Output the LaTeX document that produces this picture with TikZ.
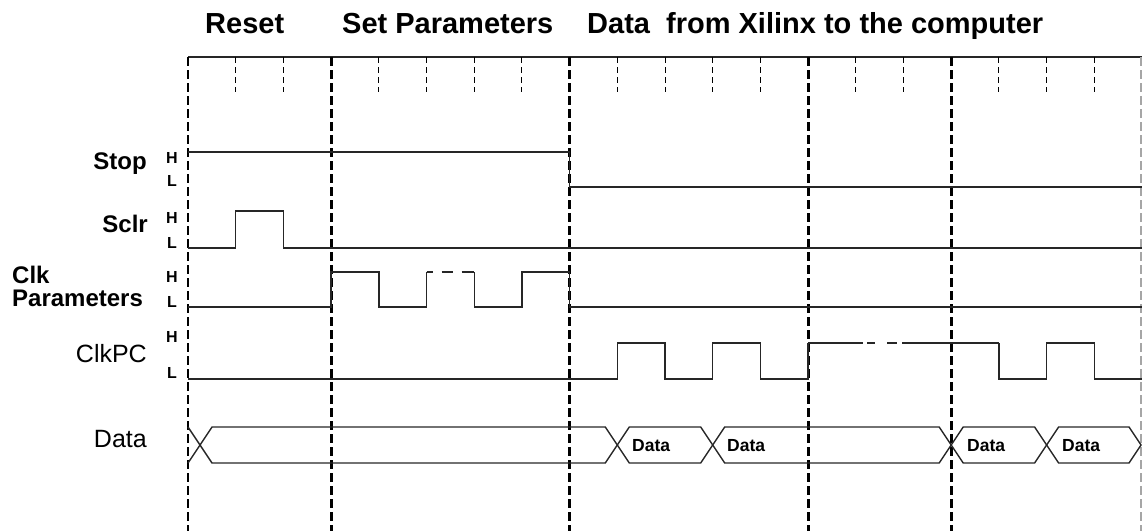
\documentclass[tikz,border=0pt]{standalone}
\usepackage{fontspec}
\setmainfont{Liberation Sans}

\begin{document}
\begin{tikzpicture}[x=1pt, y=-1pt, every node/.style={inner sep=0pt}]
	\tikzset{
		phase/.style={font=\fontsize{29}{33}\selectfont\bfseries, anchor=base west},
		signame/.style={font=\fontsize{24}{23}\selectfont\bfseries, anchor=base east},
		sigreg/.style={font=\fontsize{25}{27}\selectfont, anchor=base east},
		level/.style={font=\fontsize{16}{17}\selectfont\bfseries},
		busname/.style={font=\fontsize{17.5}{19}\selectfont\bfseries, anchor=west},
		wave/.style={line width=1.4pt, color=black!85},
		major/.style={line width=2.8pt, dash pattern=on 9pt off 4pt},
		minor/.style={line width=0.9pt, dash pattern=on 6pt off 4pt}
	}
	\useasboundingbox (0,0) rectangle (1142,531);

	% phase titles
	\node[phase] (reset)  at (205,33) {Reset};
	\node[phase] (setpar) at (342,33) {Set Parameters};
	\node[phase] (xilinx) at (587,33) {Data\ \ from Xilinx to the computer};

	% signal names
	\node[signame] (stop) at (147,169) {Stop};
	\node[signame] (sclr) at (148,232) {Sclr};
	\node[signame, anchor=north west, align=left] (clkpar) at (12,266) {Clk\\Parameters};
	\node[sigreg] (clkpc) at (147,362) {ClkPC};
	\node[sigreg] (data)  at (147,447) {Data};
	\foreach \nm/\yh/\yl in {stop/158/181, sclr/218/243, clkpar/277/302, clkpc/337/373} {
		\node[level] (\nm H) at (172,\yh) {H};
		\node[level] (\nm L) at (172,\yl) {L};
	}

	% time grid
	\draw[wave] (188,57) -- (1142,57);
	\draw[major, black!35, line width=1.6pt] (1141,57) -- (1141,531);
	\begin{scope}[shift={(188,0)}, x=47.7pt]
		\foreach \k in {1,2,4,5,6,7,9,10,11,12,14,15,17,18,19}
			\draw[minor] (\k,57) -- (\k,92);
		\foreach \k in {0,3,8,13,16}
			\draw[major] (\k,57) -- (\k,531);

		% Stop
		\draw[wave] (0,152) -- (8,152) -- (8,187) -- (20,187);
		% Sclr
		\draw[wave] (0,248) -- (1,248) -- (1,211) -- (2,211) -- (2,248) -- (20,248);
		% Clk Parameters
		\draw[wave] (0,307) -- (3,307) -- (3,272) -- (4,272) -- (4,307) -- (5,307) -- (5,272);
		\draw[wave, dash pattern=on 6pt off 9pt on 11pt off 9pt on 20pt] (5,272) -- (6,272);
		\draw[wave] (6,272) -- (6,307) -- (7,307) -- (7,272) -- (8,272) -- (8,307) -- (20,307);
		% ClkPC
		\draw[wave] (0,379) -- (9,379) -- (9,343) -- (10,343) -- (10,379) -- (11,379)
			-- (11,343) -- (12,343) -- (12,379) -- (13,379) -- (13,343);
		\draw[wave, dash pattern=on 55pt off 4pt on 8pt off 12pt on 10pt off 5pt on 300pt] (13,343) -- (17,343);
		\draw[wave] (17,343) -- (17,379) -- (18,379) -- (18,343) -- (19,343) -- (19,379) -- (20,379);
	\end{scope}

	% Data bus
	\draw[wave] (188,427) -- (200,445) -- (188,463);
	\foreach \a/\b in {200/617.3, 617.3/712.7, 712.7/951.2, 951.2/1046.6, 1046.6/1141}
		\draw[wave] (\a,445) -- ({\a+12},427) -- ({\b-12},427) -- (\b,445)
			-- ({\b-12},463) -- ({\a+12},463) -- cycle;
	\node[busname] (data1) at (632,446) {Data};
	\node[busname] (data2) at (727,446) {Data};
	\node[busname] (data3) at (967,446) {Data};
	\node[busname] (data4) at (1062,446) {Data};
\end{tikzpicture}
\end{document}
